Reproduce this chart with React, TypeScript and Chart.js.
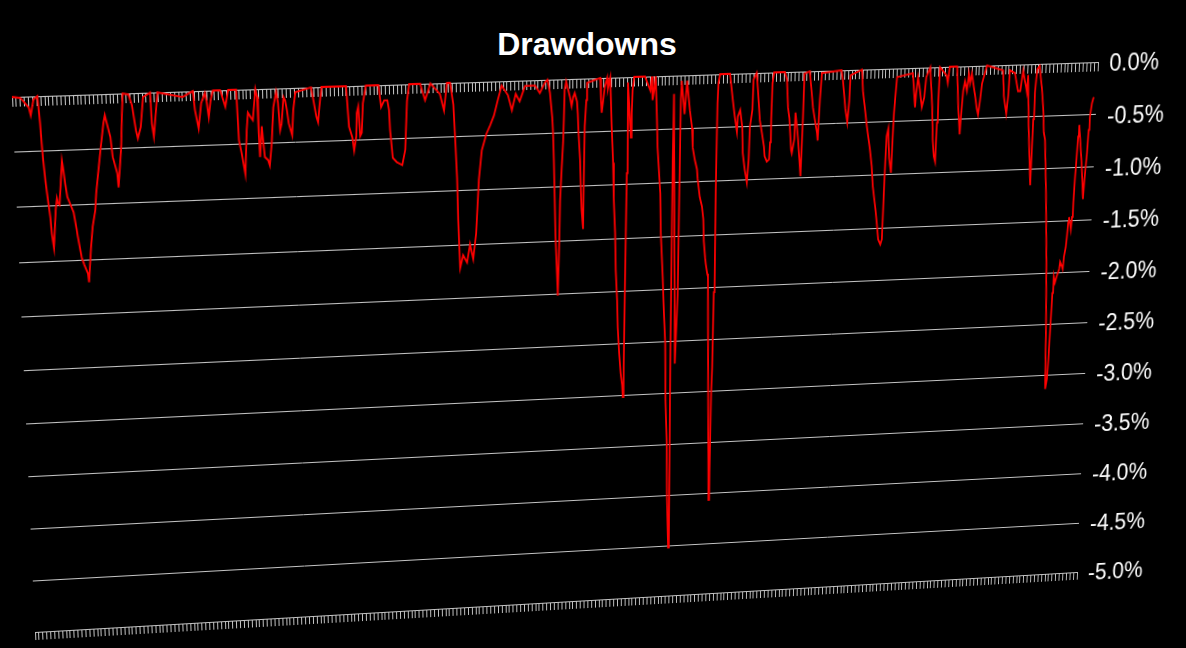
import { useEffect, useRef } from 'react';
import { Chart, registerables } from 'chart.js';

Chart.register(...registerables);

// ---- data (trading-day index, drawdown in %) ----
const dayIndex = [
  0, 10, 20, 22, 26, 31, 33, 34, 35, 37,
  39, 41, 42, 44, 48, 50, 51, 53, 58, 59,
  61, 63, 66, 70, 73, 74, 78, 81, 85, 86,
  90, 93, 97, 99, 101, 106, 111, 113, 115, 119,
  121, 126, 127, 132, 134, 136, 143, 147, 151, 153,
  157, 161, 170, 171, 173, 179, 210, 223, 225, 229,
  233, 238, 240, 242, 245, 248, 257, 263, 267, 277,
  279, 282, 286, 289, 291, 295, 297, 301, 303, 304,
  305, 308, 309, 311, 315, 317, 320, 323, 327, 329,
  331, 333, 336, 338, 340, 342, 346, 348, 351, 371,
  373, 377, 379, 381, 384, 415, 418, 422, 424, 427,
  428, 430, 432, 434, 436, 440, 456, 459, 463, 467,
  469, 470, 473, 478, 485, 489, 492, 495, 509, 515,
  522, 534, 539, 543, 547, 551, 553, 555, 556, 558,
  562, 567, 571, 575, 579, 583, 587, 593, 598, 603,
  608, 613, 621, 626, 631, 636, 643, 656, 662, 669,
  672, 675, 678, 679, 680, 681, 682, 684, 685, 687,
  688, 690, 692, 693, 694, 696, 701, 703, 705, 707,
  710, 711, 712, 714, 715, 716, 718, 719, 720, 722,
  723, 740, 741, 742, 744, 746, 749, 750, 753, 755,
  757, 758, 760, 761, 763, 764, 766, 768, 770, 771,
  772, 773, 774, 775, 776, 778, 780, 781, 782, 784,
  798, 805, 807, 808, 810, 812, 814, 815, 819, 820,
  823, 825, 827, 828, 830, 831, 833, 834, 835, 836,
  840, 841, 843, 844, 845, 846, 850, 853, 857, 860,
  861, 864, 867, 868, 871, 874, 876, 877, 879, 880,
  882, 883, 885, 887, 888, 889, 890, 891, 892, 893,
  894, 896, 909, 913, 916, 919, 920, 923, 926, 927,
  930, 933, 935, 936, 939, 940, 944, 946, 949, 952,
  955, 956, 959, 962, 963, 964, 965, 967, 981, 984,
  986, 988, 991, 992, 995, 996, 998, 1000, 1004, 1005,
  1006, 1007, 1014, 1019, 1022, 1025, 1026, 1028, 1030, 1056,
  1058, 1062, 1065, 1067, 1068, 1083, 1085, 1088, 1091, 1096,
  1099, 1101, 1105, 1108, 1110, 1113, 1115, 1116, 1117, 1118,
  1120, 1122, 1125, 1126, 1127, 1128, 1130, 1151, 1155, 1156,
  1158, 1161, 1164, 1167, 1169, 1174, 1178, 1180, 1182, 1184,
  1185, 1186, 1187, 1196, 1198, 1200, 1210, 1213, 1216, 1217,
  1219, 1221, 1224, 1226, 1228, 1230, 1235, 1238, 1240, 1242,
  1244, 1250, 1272, 1274, 1278, 1280, 1281, 1288, 1293, 1296,
  1299, 1302, 1305, 1306, 1309, 1314, 1315, 1316, 1317, 1318,
  1321, 1325, 1328, 1330, 1332, 1336, 1340, 1343, 1344, 1345,
  1347, 1348, 1349, 1350, 1351, 1353, 1355, 1358, 1359, 1362,
  1363, 1364, 1366, 1367, 1368, 1369, 1372, 1373, 1374, 1375,
  1376, 1377, 1378, 1381, 1384, 1387, 1388, 1389, 1390, 1391,
  1392, 1394, 1396,
];

const drawdown = [
  0, -0.01, -0.10, -0.17, -0.03, 0, -0.24, -0.43, -0.58, -0.79,
  -0.95, -1.10, -1.25, -1.38, -1.03, -0.93, -0.97, -0.99, -0.59, -0.65,
  -0.80, -0.92, -0.98, -1.06, -1.22, -1.28, -1.48, -1.55, -1.63, -1.71,
  -1.39, -1.20, -1.05, -0.89, -0.78, -0.51, -0.26, -0.19, -0.26, -0.39,
  -0.57, -0.72, -0.85, -0.48, -0.21, 0, -0.01, -0.11, -0.34, -0.41,
  -0.31, -0.04, 0, -0.28, -0.40, 0, -0.05, 0, -0.17, -0.34,
  -0.11, -0.02, -0.11, -0.24, -0.08, 0, 0, -0.15, 0, 0,
  -0.46, -0.58, -0.77, -0.37, -0.21, -0.26, -0.28, 0, -0.07, -0.40,
  -0.62, -0.34, -0.44, -0.62, -0.65, -0.70, -0.50, -0.17, -0.03, -0.13,
  -0.38, -0.32, -0.08, -0.11, -0.20, -0.32, -0.43, -0.20, -0.04, 0,
  -0.09, -0.27, -0.32, -0.18, 0, 0, -0.37, -0.47, -0.59, -0.46,
  -0.25, -0.19, -0.46, -0.43, -0.16, 0, 0, -0.20, -0.14, -0.14,
  -0.23, -0.41, -0.67, -0.71, -0.74, -0.60, -0.15, 0, 0, -0.15,
  0, -0.10, -0.25, 0, 0, -0.20, -0.52, -0.88, -1.27, -1.72,
  -1.60, -1.67, -1.50, -1.64, -1.40, -0.90, -0.63, -0.48, -0.40, -0.31,
  -0.17, -0.04, -0.13, -0.27, -0.12, -0.19, -0.05, -0.05, -0.12, -0.02,
  0, -0.12, -0.35, -0.49, -0.75, -1.09, -1.45, -1.82, -2.02, -1.50,
  -1.13, -0.84, -0.58, -0.36, -0.10, -0.02, -0.17, -0.25, -0.17, -0.13,
  -0.21, -0.32, -0.50, -0.75, -1.00, -1.21, -1.40, -0.88, -0.44, -0.20,
  -0.04, 0, -0.20, -0.32, -0.20, -0.08, 0, -0.10, 0, -0.45,
  -0.79, -1.12, -1.45, -1.80, -2.09, -2.35, -2.60, -2.79, -2.90, -3.02,
  -2.72, -2.09, -1.47, -0.89, -0.05, -0.31, -0.56, -0.33, -0.12, 0,
  0, -0.13, 0, -0.22, -0.13, 0, -0.41, -0.66, -1.09, -1.46,
  -1.88, -2.23, -2.52, -3.07, -3.49, -4.02, -4.52, -2.60, -0.80, -0.17,
  -2.72, -2.50, -2.06, -1.10, -0.23, -0.05, -0.36, -0.05, -0.33, -0.49,
  -0.67, -0.79, -0.88, -0.97, -1.14, -1.23, -1.35, -1.56, -1.72, -1.78,
  -1.87, -1.90, -3.02, -4.07, -3.80, -3.02, -2.77, -2.05, -1.10, -0.27,
  -0.08, 0, 0, -0.24, -0.40, -0.54, -0.40, -0.34, -0.50, -0.74,
  -0.90, -1.02, -0.80, -0.50, -0.34, -0.06, 0, -0.16, -0.44, -0.56,
  -0.69, -0.78, -0.83, -0.81, -0.65, -0.44, -0.10, 0, 0, -0.07,
  -0.33, -0.43, -0.73, -0.76, -0.63, -0.38, -0.50, -0.63, -0.98, -0.71,
  -0.43, -0.02, 0, -0.34, -0.46, -0.58, -0.65, -0.27, -0.02, 0,
  -0.09, -0.36, -0.49, -0.29, -0.05, 0, -0.20, -0.36, -0.52, -0.75,
  -0.91, -1.10, -1.30, -1.48, -1.61, -1.66, -1.61, -1.22, -0.87, -0.63,
  -0.56, -0.84, -0.98, -0.67, -0.42, -0.30, -0.08, -0.05, -0.37, -0.24,
  -0.09, -0.21, -0.37, -0.28, -0.09, 0, -0.37, -0.68, -0.84, -0.89,
  -0.52, -0.31, 0, -0.08, -0.15, 0, 0, -0.38, -0.64, -0.48,
  -0.23, -0.14, -0.23, -0.07, -0.16, -0.07, -0.27, -0.40, -0.46, -0.33,
  -0.17, 0, -0.05, -0.29, -0.46, -0.29, -0.05, -0.08, -0.25, -0.25,
  -0.06, -0.16, -0.26, -0.10, -0.58, -1.15, -0.52, -0.27, -0.15, -0.05,
  -0.02, -0.22, -0.42, -0.65, -0.72, -1.22, -1.87, -2.53, -2.85, -3.14,
  -3.04, -2.85, -2.53, -2.20, -2.04, -2.10, -2.04, -1.97, -1.90, -1.95,
  -1.97, -1.85, -1.76, -1.66, -1.52, -1.47, -1.59, -1.47, -1.33, -1.08,
  -0.91, -0.70, -0.59, -0.80, -1.02, -1.30, -1.11, -0.99, -0.86, -0.64,
  -0.52, -0.39, -0.33,
];

const xRange = [0, 1400];
const xTickStep = 5;
const yRange = [-5, 0];
const yTickStep = 0.5;
const chartTitle = 'Drawdowns';

// ---- layout / style ----
const W = 1186;
const H = 648;
const GRID = '#c4c4c4';
const FONT = '"Liberation Sans", Arial, Helvetica, sans-serif';
const PLOT = { left: 12, top: 62, right: 1098, bottom: 572 };
// where the plot-area corners land after the perspective tilt
const WARP = {
  tl: [12, 97],
  tr: [1098, 62],
  bl: [35, 632],
  br: [1077, 572],
};

function perspectiveMatrix(): string {
  const src = [
    [PLOT.left, PLOT.top],
    [PLOT.right, PLOT.top],
    [PLOT.left, PLOT.bottom],
    [PLOT.right, PLOT.bottom],
  ];
  const dst = [WARP.tl, WARP.tr, WARP.bl, WARP.br];
  const A: number[][] = [];
  for (let i = 0; i < 4; i++) {
    const [x, y] = src[i];
    const [u, v] = dst[i];
    A.push([x, y, 1, 0, 0, 0, -x * u, -y * u, u]);
    A.push([0, 0, 0, x, y, 1, -x * v, -y * v, v]);
  }
  for (let c = 0; c < 8; c++) {
    let p = c;
    for (let r = c + 1; r < 8; r++) if (Math.abs(A[r][c]) > Math.abs(A[p][c])) p = r;
    const tmp = A[c];
    A[c] = A[p];
    A[p] = tmp;
    for (let r = 0; r < 8; r++) {
      if (r === c) continue;
      const f = A[r][c] / A[c][c];
      for (let k = c; k < 9; k++) A[r][k] -= f * A[c][k];
    }
  }
  const h = A.map((row, i) => row[8] / row[i]);
  const [a, b, c, d, e, f, g, k] = h.map((n) => n.toFixed(10));
  return `matrix3d(${a},${d},0,${g},${b},${e},0,${k},0,0,1,0,${c},${f},0,1)`;
}

export default function App() {
  const ref = useRef<HTMLCanvasElement>(null);

  useEffect(() => {
    const canvas = ref.current;
    if (!canvas) return;
    const n = Math.min(dayIndex.length, drawdown.length);
    const points = [];
    for (let i = 0; i < n; i++) points.push({ x: dayIndex[i], y: drawdown[i] });

    const chart = new Chart(canvas, {
      type: 'line',
      data: {
        datasets: [
          {
            label: chartTitle,
            data: points,
            borderColor: '#ff0000',
            borderWidth: 1.8,
            pointRadius: 0,
            tension: 0,
            fill: false,
            clip: false,
            xAxisID: 'x',
            yAxisID: 'y',
          },
        ],
      },
      options: {
        responsive: false,
        animation: false,
        devicePixelRatio: 1,
        events: [],
        layout: {
          padding: {
            left: PLOT.left,
            top: PLOT.top,
            right: 0,
            bottom: H - PLOT.bottom - 8,
          },
        },
        plugins: {
          legend: { display: false },
          tooltip: { enabled: false },
          title: { display: false },
        },
        scales: {
          x: {
            type: 'linear',
            position: 'bottom',
            min: xRange[0],
            max: xRange[1],
            ticks: { display: false, stepSize: xTickStep },
            grid: { drawOnChartArea: false, drawTicks: true, tickLength: 8, color: GRID, lineWidth: 1 },
            border: { display: true, color: GRID, width: 1 },
            afterFit: (s: any) => {
              s.height = 8;
            },
          },
          x2: {
            type: 'linear',
            axis: 'x',
            position: { y: 0 },
            min: xRange[0],
            max: xRange[1],
            ticks: { display: false, stepSize: xTickStep },
            grid: { drawOnChartArea: false, drawTicks: true, tickLength: 8, color: GRID, lineWidth: 1 },
            border: { display: true, color: GRID, width: 1 },
          },
          y: {
            type: 'linear',
            position: 'right',
            min: yRange[0],
            max: yRange[1],
            ticks: {
              stepSize: yTickStep,
              color: '#ffffff',
              padding: 12,
              labelOffset: 3,
              font: { family: FONT, size: 23 },
              callback: (v: any) => Number(v).toFixed(1) + '%',
            },
            grid: { color: GRID, lineWidth: 1, drawTicks: false },
            border: { display: false },
            afterFit: (s: any) => {
              s.width = W - PLOT.right;
            },
          },
        },
      } as any,
    });
    return () => chart.destroy();
  }, []);

  return (
    <div
      style={{
        position: 'fixed',
        left: 0,
        top: 0,
        width: W,
        height: H,
        background: '#000000',
        overflow: 'hidden',
      }}
    >
      <div
        style={{
          position: 'absolute',
          left: 0,
          top: 28,
          width: 1174,
          textAlign: 'center',
          color: '#ffffff',
          fontFamily: FONT,
          fontWeight: 'bold',
          fontSize: 32,
          lineHeight: '32px',
        }}
      >
        {chartTitle}
      </div>
      <canvas
        ref={ref}
        width={W}
        height={H}
        style={{
          position: 'absolute',
          left: 0,
          top: 0,
          width: W,
          height: H,
          transformOrigin: '0 0',
          transform: perspectiveMatrix(),
        }}
      />
    </div>
  );
}
